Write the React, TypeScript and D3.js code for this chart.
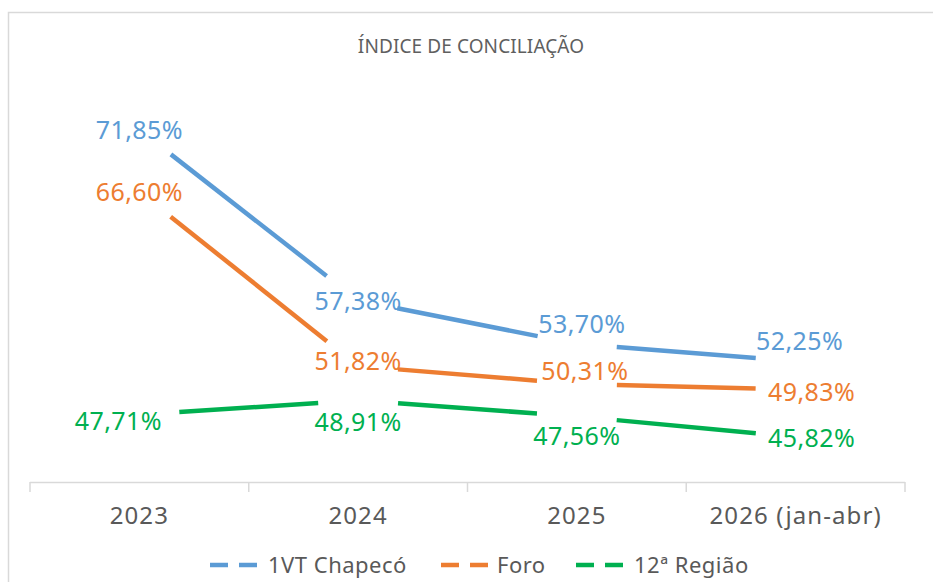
import React from "react";
import * as d3 from "d3";

const categories = ["2023", "2024", "2025", "2026 (jan-abr)"];
const seriesNames = ["1VT Chapecó", "Foro", "12ª Região"];
const vt1Values = [71.85, 57.38, 53.7, 52.25];
const foroValues = [66.6, 51.82, 50.31, 49.83];
const regiaoValues = [47.71, 48.91, 47.56, 45.82];
const colors = ["#5B9BD5", "#ED7D31", "#00B050"];

// label offsets (layout only) relative to each point
const labelOffsets = [
  [[0, 0], [0, 0], [5, -20], [4, -20]],
  [[0, 0], [0, -5], [8, -13], [16, 2]],
  [[-21, 6], [0, 22], [0, 20], [16, 1]],
];

const W = 933;
const H = 582;
const fmt = (v: number) => v.toFixed(2).replace(".", ",") + "%";

export default function App() {
  const x = d3.scaleBand<string>().domain(categories).range([30, 905]);
  const y = d3.scaleLinear().domain([42, 74]).range([482, 104.4]);
  const cx = (c: string) => (x(c) as number) + x.bandwidth() / 2;
  const all = [vt1Values, foroValues, regiaoValues];
  const gap = 40;
  const font = "'Noto Sans', 'Open Sans', sans-serif";
  const gray = "#595959";

  const legendItems = [
    { name: seriesNames[0], lx: 210, tx: 268 },
    { name: seriesNames[1], lx: 441, tx: 497 },
    { name: seriesNames[2], lx: 576, tx: 634 },
  ];

  return (
    <svg
      width={W}
      height={H}
      style={{ position: "absolute", left: 0, top: 0, background: "#fff" }}
      fontFamily={font}
    >
      <rect x={0} y={0} width={W} height={H} fill="#fff" />
      <rect x={8.5} y={12.5} width={W + 20} height={H + 20} fill="none" stroke="#d9d9d9" strokeWidth={1.5} />
      <text x={471} y={53} textAnchor="middle" fontSize={19} fill="#5f5f5f" letterSpacing={0.1}>
        ÍNDICE DE CONCILIAÇÃO
      </text>

      {/* axis */}
      <line x1={30} x2={905} y1={482.5} y2={482.5} stroke="#d9d9d9" strokeWidth={1.5} />
      {x.domain().map((c) => (
        <line key={"t" + c} x1={x(c)} x2={x(c)} y1={482} y2={492} stroke="#d9d9d9" strokeWidth={1.5} />
      ))}
      <line x1={905} x2={905} y1={482} y2={492} stroke="#d9d9d9" strokeWidth={1.5} />
      {categories.map((c) => (
        <text key={"l" + c} x={cx(c)} y={524} textAnchor="middle" fontSize={24} fill={gray} letterSpacing={1.1}>
          {c}
        </text>
      ))}

      {/* lines */}
      {all.map((vals, si) =>
        vals.slice(0, -1).map((v, i) => {
          const x1 = cx(categories[i]);
          const y1 = y(v);
          const x2 = cx(categories[i + 1]);
          const y2 = y(vals[i + 1]);
          const len = Math.hypot(x2 - x1, y2 - y1);
          const ux = (x2 - x1) / len;
          const uy = (y2 - y1) / len;
          return (
            <line
              key={`s${si}-${i}`}
              x1={x1 + ux * gap}
              y1={y1 + uy * gap}
              x2={x2 - ux * gap}
              y2={y2 - uy * gap}
              stroke={colors[si]}
              strokeWidth={4.5}
            />
          );
        })
      )}

      {/* labels */}
      {all.map((vals, si) =>
        vals.map((v, i) => (
          <text
            key={`d${si}-${i}`}
            x={cx(categories[i]) + labelOffsets[si][i][0]}
            y={y(v) + labelOffsets[si][i][1]}
            dy="0.36em"
            textAnchor="middle"
            fontSize={25}
            letterSpacing={0.4}
            fill={colors[si]}
          >
            {fmt(v)}
          </text>
        ))
      )}

      {/* legend */}
      {legendItems.map((it, i) => (
        <g key={"lg" + i}>
          <line
            x1={it.lx}
            x2={it.lx + 52}
            y1={565}
            y2={565}
            stroke={colors[i]}
            strokeWidth={4.5}
            strokeDasharray="18 11"
          />
          <text x={it.tx} y={573} fontSize={22} fill={gray} letterSpacing={0.5}>
            {it.name}
          </text>
        </g>
      ))}
    </svg>
  );
}
